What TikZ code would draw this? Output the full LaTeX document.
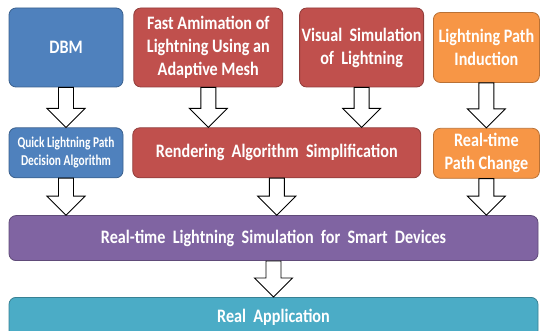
\documentclass[tikz,border=0pt]{standalone}
\usepackage{fontspec}
\newfontfamily\boxfont[FakeStretch=0.85]{Carlito}
\newfontfamily\narrowfont[FakeStretch=0.76]{Carlito}
\usetikzlibrary{calc, positioning}
\definecolor{dbmblue}{HTML}{4F81BD}
\definecolor{meshred}{HTML}{C0504D}
\definecolor{pathorange}{HTML}{F79646}
\definecolor{devpurple}{HTML}{8064A2}
\definecolor{appteal}{HTML}{4BACC6}
\tikzstyle{block} = [rectangle, rounded corners=7pt, line width=0.8pt, text=white, align=center, inner sep=2pt, font=\boxfont\bfseries\fontsize{19}{23}\selectfont]
\tikzstyle{bluebox} = [block, fill=dbmblue, draw=dbmblue!75!black]
\tikzstyle{redbox} = [block, fill=meshred, draw=meshred!75!black]
\tikzstyle{orangebox} = [block, fill=pathorange, draw=pathorange!75!black]
\tikzstyle{purplebox} = [block, fill=devpurple, draw=devpurple!75!black]
\tikzstyle{tealbox} = [block, fill=appteal, draw=appteal!75!black]
\tikzstyle{hollow} = [draw=black, fill=white, line width=0.9pt, line join=miter,
    to path={let \p1=(\tikztostart), \p2=(\tikztotarget) in
        (\x1-7.5pt,\y1) -- (\x1+7.5pt,\y1) -- (\x1+7.5pt,\y2+19pt) -- (\x1+19pt,\y2+19pt)
        -- (\x1,\y2) -- (\x1-19pt,\y2+19pt) -- (\x1-7.5pt,\y2+19pt) -- cycle}]

\begin{document}
\begin{tikzpicture}[x=1pt, y=-1pt, node distance=10pt]
    \useasboundingbox (0,0) rectangle (541,331);

    % Top row.
    \node (dbm) [bluebox, minimum width=114pt, minimum height=79pt] at (66,47.5) {DBM};
    \node (fast) [redbox, right=10pt of dbm, minimum width=149pt, minimum height=79pt] {Fast Amimation of\\Lightning Using an\\Adaptive Mesh};
    \node (visual) [redbox, right=16pt of fast, minimum width=124pt, minimum height=79pt] {Visual~ Simulation\\of~ Lightning};
    \node (induct) [orangebox, right=9pt of visual, minimum width=106pt, minimum height=70pt] {Lightning Path\\Induction};

    % Middle row.
    \node (quick) [bluebox, below=40pt of dbm, minimum width=114pt, minimum height=50pt, font=\narrowfont\bfseries\fontsize{15}{18}\selectfont] {Quick Lightning Path\\Decision Algorithm};
    \node (render) [redbox, right=9pt of quick, minimum width=288pt, minimum height=50pt] {Rendering~ Algorithm~ Simplification};
    \node (change) [orangebox, below=45pt of induct, minimum width=106pt, minimum height=50pt] {Real-time\\Path Change};

    % Bottom rows.
    \node (devices) [purplebox, below=37pt of quick.south west, anchor=north west, minimum width=529pt, minimum height=45pt] {Real-time~ Lightning~ Simulation~ for~ Smart~ Devices};
    \node (app) [tealbox, below=36pt of devices, minimum width=529pt, minimum height=40pt] {Real~ Application};

    % Arrows.
    \draw [hollow] (dbm.south) to (quick.north);
    \draw [hollow] (fast.south) to (render.north);
    \draw [hollow] (visual.south) to (render.north);
    \draw [hollow] (induct.south) to (change.north);
    \foreach \b in {quick, render, change} {
        \draw [hollow] (\b.south) to (devices.north);
    }
    \draw [hollow] (devices.south) to (app.north);
\end{tikzpicture}
\end{document}
